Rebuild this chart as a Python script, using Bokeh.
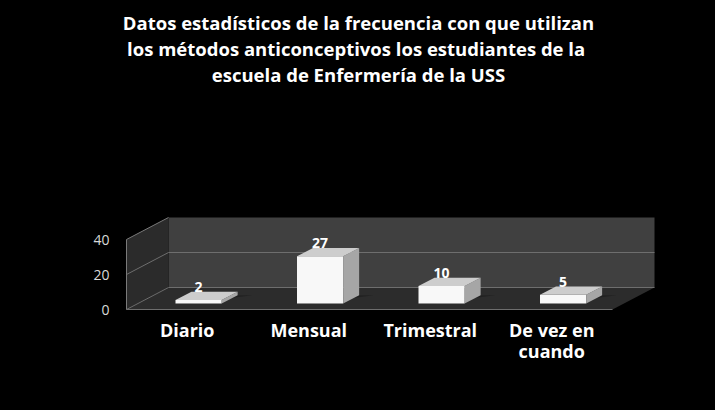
from bokeh.plotting import figure
from bokeh.models import Range1d, FixedTicker, GlobalInlineStyleSheet, ColumnDataSource
from bokeh.core.properties import value
from bokeh.embed import file_html
from bokeh.resources import INLINE

# ---- data ----
categories = ["Diario", "Mensual", "Trimestral", "De vez en cuando"]
counts = [2, 27, 10, 5]
y_ticks = [0, 20, 40]
title_lines = [
    "Datos estadísticos de la frecuencia con que utilizan",
    "los métodos anticonceptivos los estudiantes  de la",
    "escuela de Enfermería de la USS",
]
wrapped = {"De vez en cuando": "De vez en\ncuando"}

# ---- layout constants ----
W, H = 707, 402
L = 115            # left border (axis area)
KX = 121.5         # px per category slot
KY = 1.75          # px per value unit
X0 = 11            # frame px of floor front-left corner
Y0 = 309           # frame px (from top) of value 0 on the front edge
DX = 42 / KX       # full depth offset in data units (x)
DY = 22 / KY       # full depth offset in data units (y)
Y_MAX = 40
BF, BD, BW = 0.27, 0.38, 0.38   # bar front depth, bar depth, bar width
FONT = "Open Sans"

def proj(x, v, d):
    return x + d * DX, v + d * DY

n = len(categories)

p = figure(width=W, height=H,
           x_range=Range1d(-X0 / KX, (W - L - X0) / KX),
           y_range=Range1d((Y0 - H) / KY, Y0 / KY),
           x_axis_location=None,
           output_backend="svg", toolbar_location=None,
           min_border_left=L, min_border_right=0,
           min_border_top=0, min_border_bottom=0)
p.background_fill_color = "black"
p.border_fill_color = "black"
p.outline_line_color = None
p.grid.visible = False
p.stylesheets = [GlobalInlineStyleSheet(css="body { background-color: #000; }")]

# ---- walls and floor ----
def poly(pts):
    xs, ys = zip(*[proj(*pt) for pt in pts])
    return list(xs), list(ys)

left_wall = poly([(0, 0, 0), (0, Y_MAX, 0), (0, Y_MAX, 1), (0, 0, 1)])
back_wall = poly([(0, 0, 1), (n, 0, 1), (n, Y_MAX, 1), (0, Y_MAX, 1)])
floor = poly([(0, 0, 0), (n, 0, 0), (n, 0, 1), (0, 0, 1)])

p.patch(*back_wall, fill_color="#404040", line_color=None)
p.patch(*left_wall, fill_color="#2b2b2b", line_color=None)
p.patch(*floor, fill_color="#2c2c2c", line_color=None)

for t in y_ticks[:-1]:
    gx, gy = poly([(0, t, 0), (0, t, 1), (n, t, 1)])
    p.line(gx, gy, line_color="#6e6e6e", line_width=1)
ex, ey = poly([(0, 0, 0), (0, Y_MAX, 0), (0, Y_MAX, 1)])
p.line(ex, ey, line_color="#7a7a7a", line_width=1)
fx, fy = poly([(0, 0, 0), (n, 0, 0)])
p.line(fx, fy, line_color="#6e6e6e", line_width=1)

# ---- bars ----
cx = [i + 0.5 + BF * DX for i in range(n)]
lefts = [c - BW / 2 for c in cx]
rights = [c + BW / 2 for c in cx]
bottoms = [BF * DY] * n
tops = [v + BF * DY for v in counts]

side_xs, side_ys, top_xs, top_ys, sh_xs, sh_ys = [], [], [], [], [], []
for l, r, b, t in zip(lefts, rights, bottoms, tops):
    ox, oy = BD * DX, BD * DY
    side_xs.append([r, r + ox, r + ox, r])
    side_ys.append([b, b + oy, t + oy, t])
    top_xs.append([l, r, r + ox, l + ox])
    top_ys.append([t, t, t + oy, t + oy])
    sh_xs.append([l, r + ox, r + ox + 0.12, l + 0.12])
    sh_ys.append([b, b + oy, b + oy, b])

p.patches(sh_xs, sh_ys, fill_color="#1a1a1a", fill_alpha=0.6, line_color=None)
p.quad(left=lefts, right=rights, bottom=bottoms, top=tops,
       fill_color="#f8f8f8", line_color=None)
p.patches(side_xs, side_ys, fill_color="#a6a6a6", line_color=None)
p.patches(top_xs, top_ys, fill_color="#cdcdcd", line_color=None)

# ---- value labels ----
lab_src = ColumnDataSource(dict(
    x=cx, y=[v + (BF + BD) * DY + 4.5 / KY for v in counts],
    text=[str(v) for v in counts]))
p.text(x="x", y="y", text="text", source=lab_src, text_color="white",
       text_font=value(FONT), text_font_style="bold", text_font_size="14px",
       text_align="center", text_baseline="middle")

# ---- category labels ----
cat_src = ColumnDataSource(dict(
    x=[i + 0.5 for i in range(n)], y=[(Y0 - 317) / KY] * n,
    text=[wrapped.get(c, c) for c in categories]))
p.text(x="x", y="y", text="text", source=cat_src, text_color="white",
       text_font=value(FONT), text_font_style="bold", text_font_size="18px",
       text_align="center", text_baseline="top", text_line_height=0.9)

# ---- title ----
title_y = [(Y0 - yy) / KY for yy in (22, 48, 74)]
title_x = (358 - L - X0) / KX
p.text(x=[title_x] * 3, y=title_y, text=title_lines, text_color="white",
       text_font=value(FONT), text_font_style="bold", text_font_size="18.5px",
       text_align="center", text_baseline="middle")

# ---- y axis ----
p.yaxis.ticker = FixedTicker(ticks=y_ticks)
p.yaxis.axis_line_color = None
p.yaxis.major_tick_line_color = None
p.yaxis.minor_tick_line_color = None
p.yaxis.major_label_text_color = "#d9d9d9"
p.yaxis.major_label_text_font = FONT
p.yaxis.major_label_text_font_size = "14px"
p.yaxis.major_label_standoff = 0

open("out.html", "w").write(file_html(p, INLINE))
